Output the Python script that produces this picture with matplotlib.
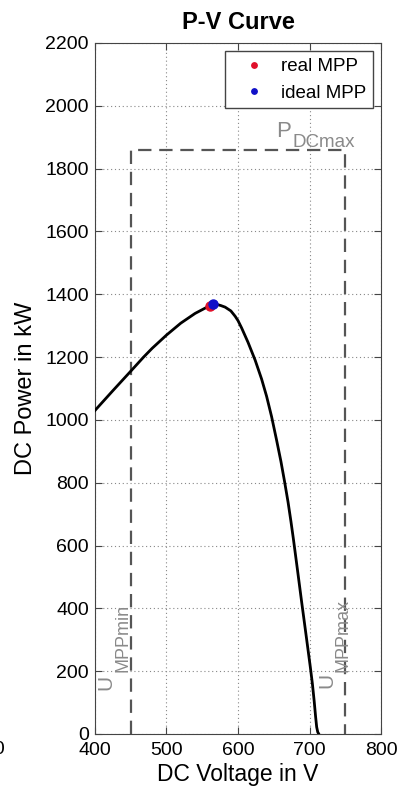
import numpy as np
import matplotlib
matplotlib.use('Agg')
import matplotlib.pyplot as plt

plt.rcParams['font.family'] = ['Liberation Sans', 'DejaVu Sans']

# P-V curve
volt = [400, 425, 450, 468, 480, 500, 520, 540, 555, 560, 565, 570, 576, 582,
        590, 596, 600, 605, 614, 624, 633, 640, 647, 654, 660, 665, 670, 674,
        677.5, 683, 689, 695, 701, 704, 706.5, 708.5, 710, 711.5, 713]
power = [1030, 1093, 1155, 1200, 1228, 1270, 1308, 1339, 1357, 1364, 1368.5,
         1368, 1364, 1359, 1347, 1330, 1316, 1293, 1247, 1190, 1130, 1075,
         1010, 935, 868, 805, 738, 677, 620, 525, 420, 318, 215, 160, 105,
         55, 22, 6, 0]

real_mpp = (561, 1363)
ideal_mpp = (565.5, 1369)

u_min = 450
u_max = 750
p_dcmax = 1860

grey = '#8a8a8a'

fig = plt.figure(figsize=(3.99, 7.90), dpi=100)
ax = fig.add_axes([0.238, 0.0709, 0.717, 0.8747])

ax.plot(volt, power, color='black', lw=2.0, zorder=3)
ax.plot([u_min, u_min, u_max, u_max], [0, p_dcmax, p_dcmax, 0],
        color='#555555', lw=1.6, ls=(0, (6, 3.5)), zorder=2)
ax.plot(*real_mpp, 'o', color='#e0102a', ms=6.5, label='real MPP', zorder=4)
ax.plot(*ideal_mpp, 'o', color='#1010c8', ms=6.5, label='ideal MPP', zorder=5)

# box annotations (main letter + large subscript)
ax.text(653, 1900, 'P', color=grey, fontsize=16, va='baseline')
ax.text(676, 1869, 'DCmax', color=grey, fontsize=13.5, va='baseline')
ax.text(415, 140, 'U', color=grey, fontsize=15, rotation=90,
        ha='center', va='bottom')
ax.text(439, 197, 'MPPmin', color=grey, fontsize=13, rotation=90,
        ha='center', va='bottom')
ax.text(724, 146, 'U', color=grey, fontsize=15, rotation=90,
        ha='center', va='bottom')
ax.text(747, 197, 'MPPmax', color=grey, fontsize=13, rotation=90,
        ha='center', va='bottom')

ax.set_xlim(400, 800)
ax.set_ylim(0, 2200)
ax.set_xticks(np.arange(400, 801, 100))
ax.set_yticks(np.arange(0, 2201, 200))
ax.grid(True, ls=(0, (1, 2.5)), color='#888888', lw=0.8)
ax.tick_params(direction='in', top=True, right=True, labelsize=14,
               length=5, color='#444444')
ax.tick_params(axis='x', pad=5.5)
ax.tick_params(axis='y', pad=4.3)
for s in ax.spines.values():
    s.set_color('#444444')

ax.set_title('P-V Curve', fontsize=17, fontweight='bold', pad=10)
ax.set_xlabel('DC Voltage in V', fontsize=16.5, labelpad=3)
ax.set_ylabel('DC Power in kW', fontsize=17, labelpad=6)
ax.legend(loc='upper right', fontsize=13.5, handletextpad=0.25, numpoints=1,
          markerscale=0.6, handlelength=2.4, labelspacing=0.5,
          borderaxespad=0.45, borderpad=0.35, fancybox=False,
          edgecolor='#444444', framealpha=1)

# cut-off tick label from a neighbouring plot
fig.text(0.012, 0.0515, '400', fontsize=14, ha='right', va='center')

fig.savefig('out.png', dpi=100)
